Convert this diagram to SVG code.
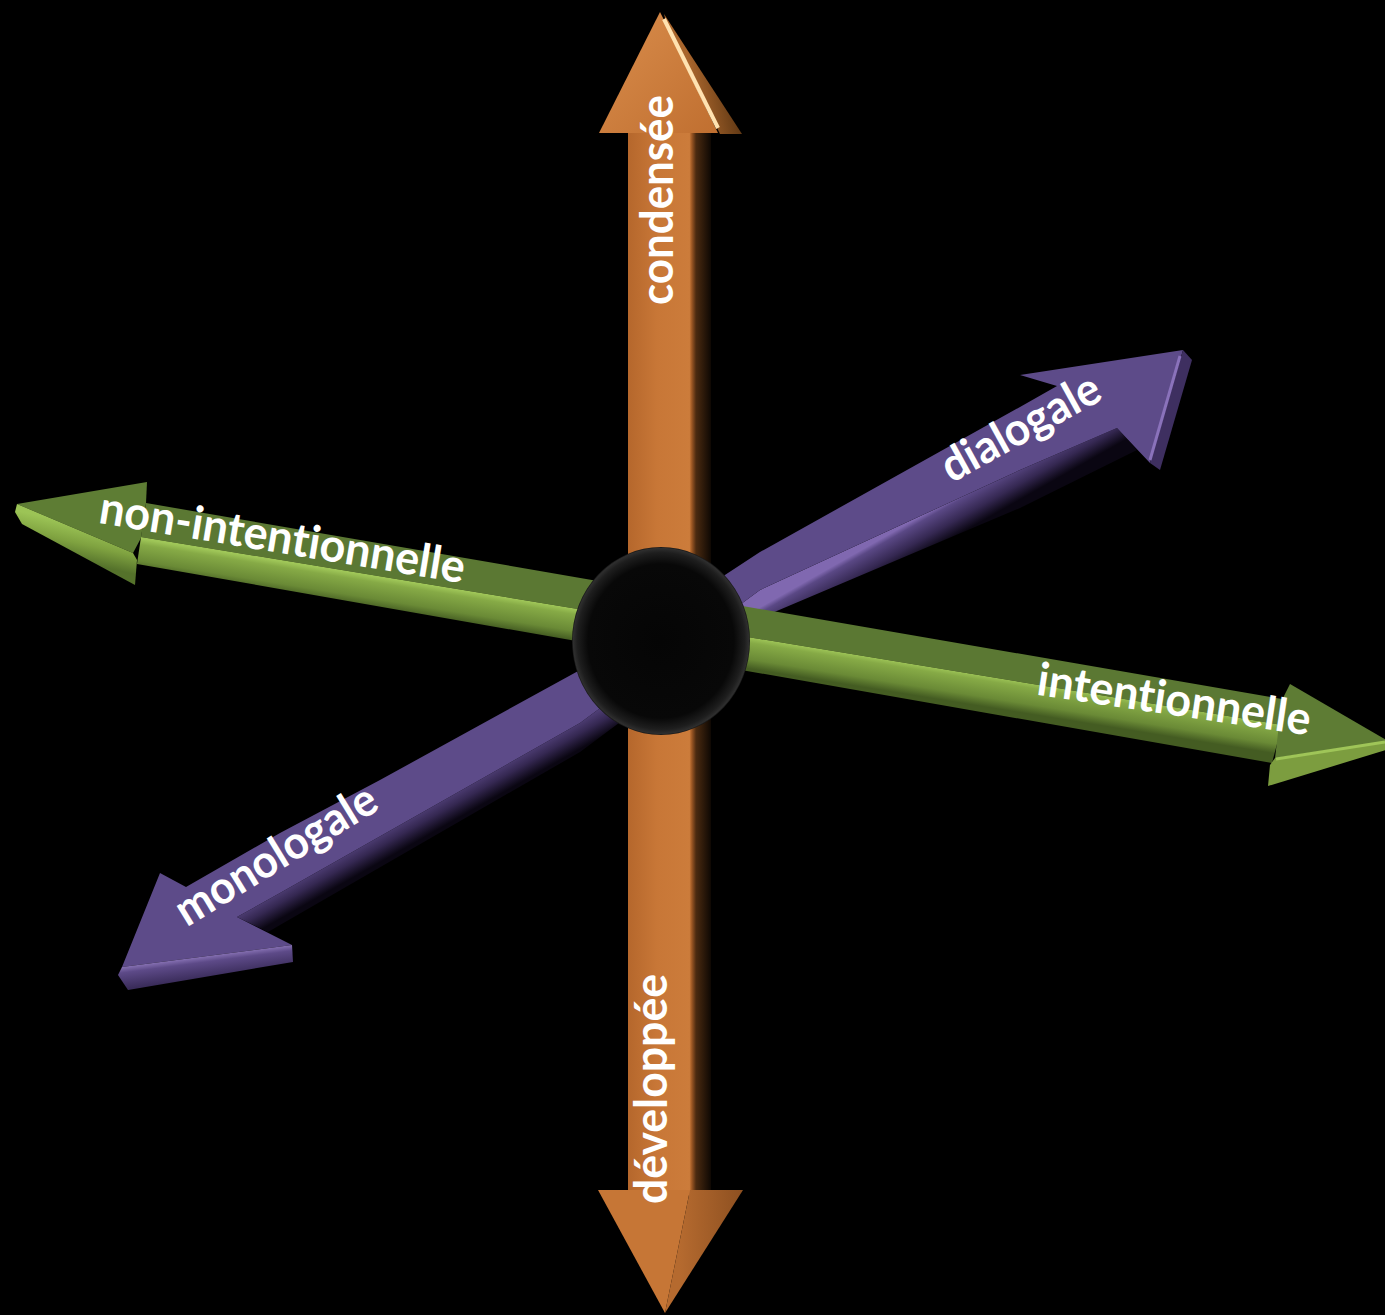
<svg xmlns="http://www.w3.org/2000/svg" width="1385" height="1315" viewBox="0 0 1385 1315">
<defs>
<style>
.lbl{font-family:Lato,"Open Sans","Liberation Sans",sans-serif;font-weight:bold;font-size:46px;fill:#ffffff;font-variant-ligatures:none;font-feature-settings:"liga" 0,"clig" 0;}
</style>
<linearGradient id="orShaft" gradientUnits="userSpaceOnUse" x1="628" y1="0" x2="711" y2="0">
<stop offset="0" stop-color="#b5672c"/>
<stop offset="0.35" stop-color="#c87737"/>
<stop offset="0.74" stop-color="#cc7c3b"/>
<stop offset="0.77" stop-color="#9a5623"/>
<stop offset="0.82" stop-color="#4a2a10"/>
<stop offset="1" stop-color="#0e0803"/>
</linearGradient>
<linearGradient id="orHead" x1="0" y1="0" x2="1" y2="1">
<stop offset="0" stop-color="#d98d4c"/>
<stop offset="1" stop-color="#c06f30"/>
</linearGradient>
<linearGradient id="orHeadSide" gradientUnits="userSpaceOnUse" x1="690" y1="70" x2="740" y2="60">
<stop offset="0" stop-color="#a8652c"/>
<stop offset="1" stop-color="#4a2a0c"/>
</linearGradient>
<linearGradient id="orBotRight" gradientUnits="userSpaceOnUse" x1="680" y1="0" x2="745" y2="0">
<stop offset="0" stop-color="#b56a2f"/>
<stop offset="1" stop-color="#8c4f20"/>
</linearGradient>
<linearGradient id="grLower" gradientUnits="userSpaceOnUse" x1="700" y1="629" x2="695" y2="660">
<stop offset="0" stop-color="#9fc658"/>
<stop offset="0.18" stop-color="#86aa46"/>
<stop offset="0.7" stop-color="#6a8a36"/>
<stop offset="1" stop-color="#445c22"/>
</linearGradient>
<linearGradient id="grHeadL" gradientUnits="userSpaceOnUse" x1="80" y1="525" x2="72" y2="560">
<stop offset="0" stop-color="#9cc456"/>
<stop offset="0.5" stop-color="#7fa240"/>
<stop offset="1" stop-color="#55722b"/>
</linearGradient>
<linearGradient id="puSide" gradientUnits="userSpaceOnUse" x1="660" y1="664" x2="677" y2="694">
<stop offset="0" stop-color="#8068b0"/>
<stop offset="0.14" stop-color="#5a4885"/>
<stop offset="0.6" stop-color="#352852"/>
<stop offset="1" stop-color="#0a0612"/>
</linearGradient>
<linearGradient id="puHeadSide" gradientUnits="userSpaceOnUse" x1="205" y1="955" x2="208" y2="978">
<stop offset="0" stop-color="#8e78bb"/>
<stop offset="0.3" stop-color="#5d4a88"/>
<stop offset="1" stop-color="#3a2c5a"/>
</linearGradient>
<radialGradient id="sphere" cx="0.5" cy="0.5" r="0.5">
<stop offset="0" stop-color="#050505"/>
<stop offset="0.82" stop-color="#080808"/>
<stop offset="0.94" stop-color="#1e1e1e"/>
<stop offset="0.985" stop-color="#2e2e2e"/>
<stop offset="1" stop-color="#141414"/>
</radialGradient>
</defs>
<rect x="0" y="0" width="1385" height="1315" fill="#000000"/>

<g id="connectors">
  <g id="axis-purple">
    <polygon fill="url(#puSide)" points="237,917 280,893 580,723 760,590 1020,470 1117,428 1137,450 1020,508 760,618 580,752 280,925 268,932"/>
    <polygon fill="#5d4b89" points="1183,350 1020,375 1057,386 1020,407 760,552 580,670 380,780 280,833 186,887 160,873 122,967 292,945 237,917 280,893 580,723 760,590 1020,470 1117,428 1150,463"/>
    <polygon fill="#3e2f60" points="1183,350 1192,360 1160,470 1150,463"/>
    <line x1="1180" y1="356" x2="1150" y2="460" stroke="#8a72bb" stroke-width="3"/>
    <polygon fill="url(#puHeadSide)" points="122,967 292,945 293,962 128,990 118,975"/>
  </g>
  <g id="axis-green">
    <polygon fill="#5b7833" points="146,503 1282,699 1282,725 141,537"/>
    <polygon fill="url(#grLower)" points="141,537 1282,725 1272,763 137,564"/>
    <polygon fill="#5e7d34" points="17,504 147,482 146,503 141,538 133,553"/>
    <polygon fill="url(#grHeadL)" points="17,504 133,553 137,560 135,585 22,524 15,512"/>
    <polygon fill="#5e7c34" points="1290,684 1388,741 1275,758 1282,700"/>
    <polygon fill="#7c9d3f" points="1275,758 1388,741 1386,750 1268,786 1270,765"/>
    <line x1="1276" y1="759" x2="1385" y2="742" stroke="#9fc558" stroke-width="3"/>
  </g>
  <g id="axis-orange">
    <rect x="628" y="130" width="83" height="1065" fill="url(#orShaft)"/>
    <polygon fill="url(#orHead)" points="660,12 599,133 718,133 664,20"/>
    <polygon fill="url(#orHeadSide)" points="664,14 742,134 720,134 666,22"/>
    <line x1="664" y1="19" x2="718" y2="128" stroke="#ffe2b0" stroke-width="4"/>
    <polygon fill="#c67636" points="598,1190 690,1190 665,1313"/>
    <polygon fill="url(#orBotRight)" points="690,1190 743,1190 665,1313"/>
  </g>
</g>

<g id="center">
  <ellipse cx="661" cy="641" rx="89" ry="94" fill="url(#sphere)"/>
</g>

<g id="label-condensee"><text class="lbl" text-anchor="middle" textLength="210" lengthAdjust="spacingAndGlyphs" transform="translate(673,200) rotate(-90)">condensée</text></g>
<g id="label-developpee"><text class="lbl" text-anchor="middle" textLength="230" lengthAdjust="spacingAndGlyphs" transform="translate(667,1089) rotate(-90)">développée</text></g>
<g id="label-non-intentionnelle"><text class="lbl" text-anchor="middle" textLength="370" lengthAdjust="spacingAndGlyphs" transform="translate(280,553) rotate(9.4)">non-intentionnelle</text></g>
<g id="label-intentionnelle"><text class="lbl" text-anchor="middle" textLength="276" lengthAdjust="spacingAndGlyphs" transform="translate(1172,715) rotate(8.5)">intentionnelle</text></g>
<g id="label-dialogale"><text class="lbl" text-anchor="middle" textLength="175" lengthAdjust="spacingAndGlyphs" transform="translate(1028,441) rotate(-29)">dialogale</text></g>
<g id="label-monologale"><text class="lbl" text-anchor="middle" textLength="228" lengthAdjust="spacingAndGlyphs" transform="translate(284,868) rotate(-31.5)">monologale</text></g>
</svg>
